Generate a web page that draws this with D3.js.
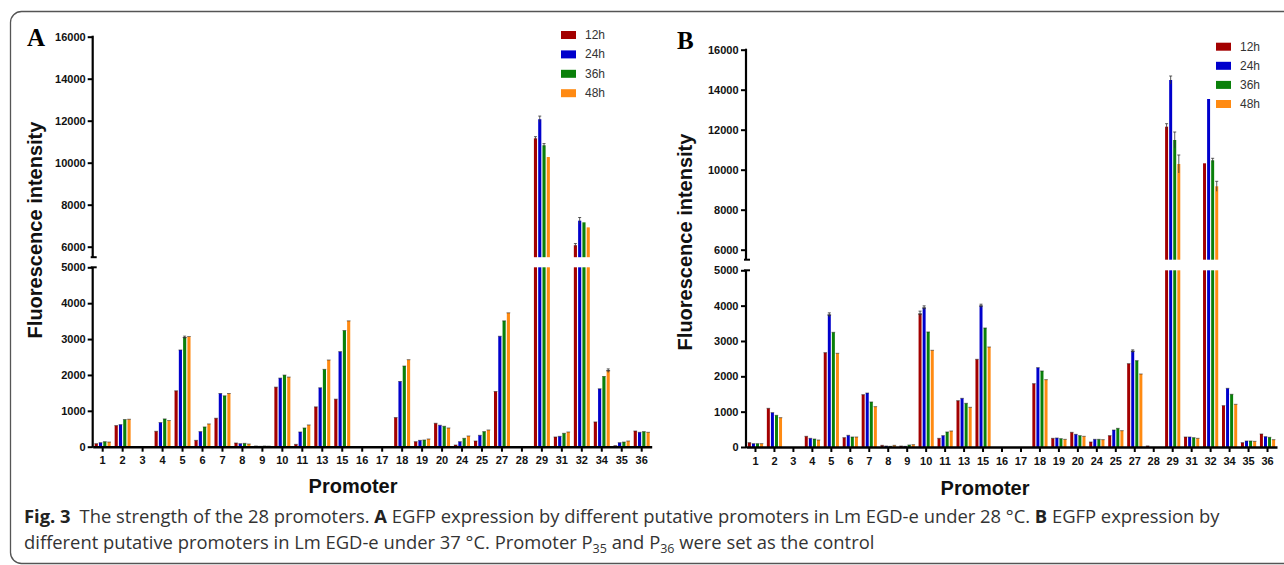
<!DOCTYPE html>
<html>
<head>
<meta charset="utf-8">
<script src="https://cdn.jsdelivr.net/npm/d3@7"></script>
<style>
  html, body { margin: 0; padding: 0; background: #fff; }
  svg { display: block; }
</style>
</head>
<body>
<svg id="chart" width="1284" height="565"></svg>
<script>
// ---------------- DATA ----------------
const promoters = ["1","2","3","4","5","6","7","8","9","10","11","13","15","16","17","18","19","20","24","25","27","28","29","31","32","34","35","36"];
const seriesNames = ["12h","24h","36h","48h"];

// Panel A (28 °C)
const a12 = [84,588,0,429,1558,177,793,103,20,1660,65,1110,1325,0,0,812,140,653,47,159,1539,0,11160,271,6070,690,28,438];
const a24 = [112,615,0,672,2696,420,1483,84,10,1912,410,1642,2649,0,0,1819,177,597,140,317,3078,0,12070,289,7240,1614,112,401];
const a36 = [140,756,0,774,3041,550,1418,93,20,1996,522,2155,3237,0,0,2248,187,569,233,420,3507,0,10830,373,7160,1959,130,420];
const a48 = [130,765,0,728,3069,634,1483,75,15,1940,606,2416,3507,0,0,2425,215,522,299,466,3731,0,10270,410,6920,2118,159,401];

// Panel B (37 °C)
const b12 = [123,1094,0,302,2670,264,1481,47,28,3764,245,1311,2481,0,0,1792,245,415,142,321,2358,30,12150,283,10320,1170,123,368];
const b24 = [94,972,0,245,3736,330,1528,28,19,3934,321,1377,3991,0,0,2245,255,358,217,481,2708,0,14485,283,13535,1660,170,292];
const b36 = [94,896,0,226,3245,283,1274,19,57,3255,425,1236,3368,0,0,2151,236,321,217,528,2443,0,11485,264,10470,1491,170,274];
const b48 = [94,830,0,198,2651,283,1142,47,66,2736,453,1123,2830,0,0,1906,217,302,208,462,2066,0,10285,245,9170,1208,160,208];

// visible error bars: [promoter, series, error]
const errA = [["5","36h",40],["29","12h",80],["29","24h",150],["29","36h",80],["32","12h",80],["32","24h",150],["34","48h",50]];
const errB = [["5","24h",60],["10","12h",80],["10","24h",60],["15","24h",50],["27","24h",40],
              ["29","12h",150],["29","24h",200],["29","36h",400],["29","48h",450],["32","36h",100],["32","48h",250]];

const yTicksLower = [0,1000,2000,3000,4000,5000];
const yTicksUpper = [6000,8000,10000,12000,14000,16000];

// ---------------- STYLE ----------------
const colors = ["#a30000","#0000cc","#0a800a","#ff8a12"];
const svg = d3.select("#chart");
svg.append("rect").attr("width",1284).attr("height",565).attr("fill","#fff");

// frame
svg.append("rect").attr("x",10.5).attr("y",11.5).attr("width",1300).attr("height",552)
   .attr("rx",11).attr("fill","none").attr("stroke","#555").attr("stroke-width",1.3);

const tickFont = "'Liberation Sans', Arial, sans-serif";

function drawPanel(cfg, data, errs) {
  const g = svg.append("g");
  const x0 = d3.scaleBand().domain(promoters).range([cfg.left, cfg.right]);
  const groupW = x0.bandwidth() * 0.8;
  const x1 = d3.scaleBand().domain(seriesNames).range([0, groupW]).paddingInner(0.27);
  const yLow = d3.scaleLinear().domain([0, 5000]).range([cfg.y0, cfg.y5000]);
  const yUp = d3.scaleLinear().domain([6000, 16000]).range([cfg.y6000, cfg.y16000]);
  const lowMax = 5000, upMin = 5500;

  // bars
  const recs = [];
  promoters.forEach((p, i) => {
    seriesNames.forEach((s, j) => {
      recs.push({p, s, j, v: data[j][i]});
    });
  });
  const bx = d => x0(d.p) + (x0.bandwidth() - groupW) / 2 + x1(d.s);
  const bars = g.append("g");
  recs.filter(d => d.v > 0).forEach(d => {
    const lv = Math.min(d.v, lowMax);
    bars.append("rect").attr("x", bx(d)).attr("width", x1.bandwidth())
      .attr("y", yLow(lv)).attr("height", yLow(0) - yLow(lv))
      .attr("fill", colors[d.j]);
    if (d.v > lowMax) {
      bars.append("rect").attr("x", bx(d)).attr("width", x1.bandwidth())
        .attr("y", yUp(d.v)).attr("height", yUp(upMin) - yUp(d.v))
        .attr("fill", colors[d.j]);
    } else {
      // dark cap at bar top
      bars.append("line").attr("x1", bx(d) - 0.3).attr("x2", bx(d) + x1.bandwidth() + 0.3)
        .attr("y1", yLow(lv)).attr("y2", yLow(lv))
        .attr("stroke", "#222").attr("stroke-width", 0.8).attr("opacity", 0.7);
    }
  });
  // error bars
  errs.forEach(([p, s, e]) => {
    const i = promoters.indexOf(p), j = seriesNames.indexOf(s);
    const v = data[j][i];
    const y = v > lowMax ? yUp : yLow;
    const cx = x0(p) + (x0.bandwidth() - groupW) / 2 + x1(s) + x1.bandwidth() / 2;
    const eg = bars.append("g").attr("stroke", "#333").attr("stroke-width", 0.8);
    eg.append("line").attr("x1", cx).attr("x2", cx).attr("y1", y(v - e)).attr("y2", y(v + e));
    eg.append("line").attr("x1", cx - 1.5).attr("x2", cx + 1.5).attr("y1", y(v + e)).attr("y2", y(v + e));
    if (v <= lowMax) eg.append("line").attr("x1", bx({p,s}) - 0.3).attr("x2", bx({p,s}) + x1.bandwidth() + 0.3).attr("y1", y(v)).attr("y2", y(v));
  });

  // Y axes
  const axL = g.append("g").attr("transform", `translate(${cfg.left},0)`)
    .call(d3.axisLeft(yLow).tickValues(yTicksLower).tickSize(5).tickSizeOuter(0).tickPadding(cfg.tpad).tickFormat(d3.format("d")));
  const axU = g.append("g").attr("transform", `translate(${cfg.left},0)`)
    .call(d3.axisLeft(yUp).tickValues(yTicksUpper).tickSize(5).tickSizeOuter(0).tickPadding(cfg.tpad).tickFormat(d3.format("d")));
  [axL, axU].forEach(a => {
    a.select(".domain").remove();
    a.selectAll(".tick line").attr("stroke", "#000").attr("stroke-width", 2);
    a.selectAll(".tick text").attr("font-family", tickFont).attr("font-weight", "bold")
      .attr("font-size", 11).attr("fill", "#111");
  });
  // axis lines (with break)
  g.append("line").attr("x1", cfg.left).attr("x2", cfg.left)
    .attr("y1", yLow(0) + 1).attr("y2", yLow(lowMax)).attr("stroke", "#000").attr("stroke-width", 2.2);
  g.append("line").attr("x1", cfg.left).attr("x2", cfg.left)
    .attr("y1", yUp(upMin)).attr("y2", yUp(16000) - 1).attr("stroke", "#000").attr("stroke-width", 2.2);
  // break stubs
  [yLow(lowMax), yUp(upMin)].forEach(yy => {
    g.append("line").attr("x1", cfg.left - 2).attr("x2", cfg.left + 4)
      .attr("y1", yy).attr("y2", yy).attr("stroke", "#000").attr("stroke-width", 2);
  });

  // X axis
  const axX = g.append("g").attr("transform", `translate(0,${cfg.y0})`)
    .call(d3.axisBottom(x0).tickSize(5).tickSizeOuter(0).tickPadding(5));
  axX.select(".domain").attr("stroke", "#000").attr("stroke-width", 2.4);
  axX.selectAll(".tick line").attr("stroke", "#000").attr("stroke-width", 2);
  axX.selectAll(".tick text").attr("font-family", tickFont).attr("font-weight", "bold")
    .attr("font-size", 11).attr("fill", "#111");

  // titles
  g.append("text").attr("transform", `translate(${cfg.ytX},${cfg.ytY}) rotate(-90)`)
    .attr("text-anchor", "middle").attr("dominant-baseline", "central")
    .attr("font-family", tickFont).attr("font-weight", "bold").attr("font-size", 20).attr("fill", "#111")
    .text("Fluorescence intensity");
  g.append("text").attr("x", cfg.xtX).attr("y", cfg.xtY).attr("text-anchor", "middle")
    .attr("font-family", tickFont).attr("font-weight", "bold").attr("font-size", 20).attr("fill", "#111")
    .text("Promoter");
  g.append("text").attr("x", cfg.lblX).attr("y", cfg.lblY)
    .attr("font-family", "'Liberation Serif', 'Times New Roman', serif").attr("font-weight", "bold")
    .attr("font-size", 25).attr("fill", "#000").text(cfg.label);

  // legend
  const lg = g.append("g");
  seriesNames.forEach((s, j) => {
    const yy = cfg.legY + j * cfg.legStep;
    lg.append("rect").attr("x", cfg.legX).attr("y", yy - 4).attr("width", 15).attr("height", 8).attr("fill", colors[j]);
    lg.append("text").attr("x", cfg.legX + 24).attr("y", yy).attr("dominant-baseline", "central")
      .attr("font-family", tickFont).attr("font-size", 12).attr("fill", "#333").text(s);
  });
}

drawPanel({left: 92.7, right: 651.7, y0: 446.7, y5000: 267.3, y6000: 246.7, y16000: 36.7, tpad: 2,
           ytX: 35, ytY: 230, xtX: 353, xtY: 493, label: "A", lblX: 27, lblY: 46,
           legX: 561, legY: 35, legStep: 19.4}, [a12, a24, a36, a48], errA);
drawPanel({left: 746, right: 1277, y0: 447, y5000: 270.3, y6000: 249.7, y16000: 49.7, tpad: 2.5,
           ytX: 685, ytY: 242, xtX: 985, xtY: 495, label: "B", lblX: 677, lblY: 49,
           legX: 1216, legY: 46.7, legStep: 19.1}, [b12, b24, b36, b48], errB);

// ---------------- CAPTION ----------------
const capFont = "'Open Sans', 'Noto Sans', sans-serif";
const cap = svg.append("g").attr("font-family", capFont).attr("fill", "#333");
function captionLine(y, parts) {
  const t = cap.append("text").attr("x", 24).attr("y", y).attr("font-size", 16);
  parts.forEach(pt => {
    const ts = t.append("tspan").text(pt.t);
    if (pt.b) ts.attr("font-weight", "bold").attr("fill", "#222");
    if (pt.sub) ts.attr("font-size", 11).attr("dy", 4);
    if (pt.unsub) ts.attr("dy", -4);
    if (pt.dx) ts.attr("dx", pt.dx);
  });
  return t;
}
const l1 = captionLine(523, [
  {t: "Fig. 3", b: true},
  {t: "The strength of the 28 promoters. ", dx: 9},
  {t: "A", b: true},
  {t: " EGFP expression by different putative promoters in Lm EGD-e under 28 °C. "},
  {t: "B", b: true},
  {t: " EGFP expression by"}
]);
const l2 = captionLine(549, [
  {t: "different putative promoters in Lm EGD-e under 37 °C. Promoter P"},
  {t: "35", sub: true},
  {t: " and P", unsub: true},
  {t: "36", sub: true},
  {t: " were set as the control", unsub: true}
]);
// fit caption size to the reference line width
const w1 = l1.node().getComputedTextLength();
const fs = 16 * (1188 / w1);
[l1, l2].forEach(t => {
  t.attr("font-size", fs);
  t.selectAll("tspan").filter(function(){ return d3.select(this).attr("font-size"); })
    .attr("font-size", fs * 0.68);
});
</script>
</body>
</html>
